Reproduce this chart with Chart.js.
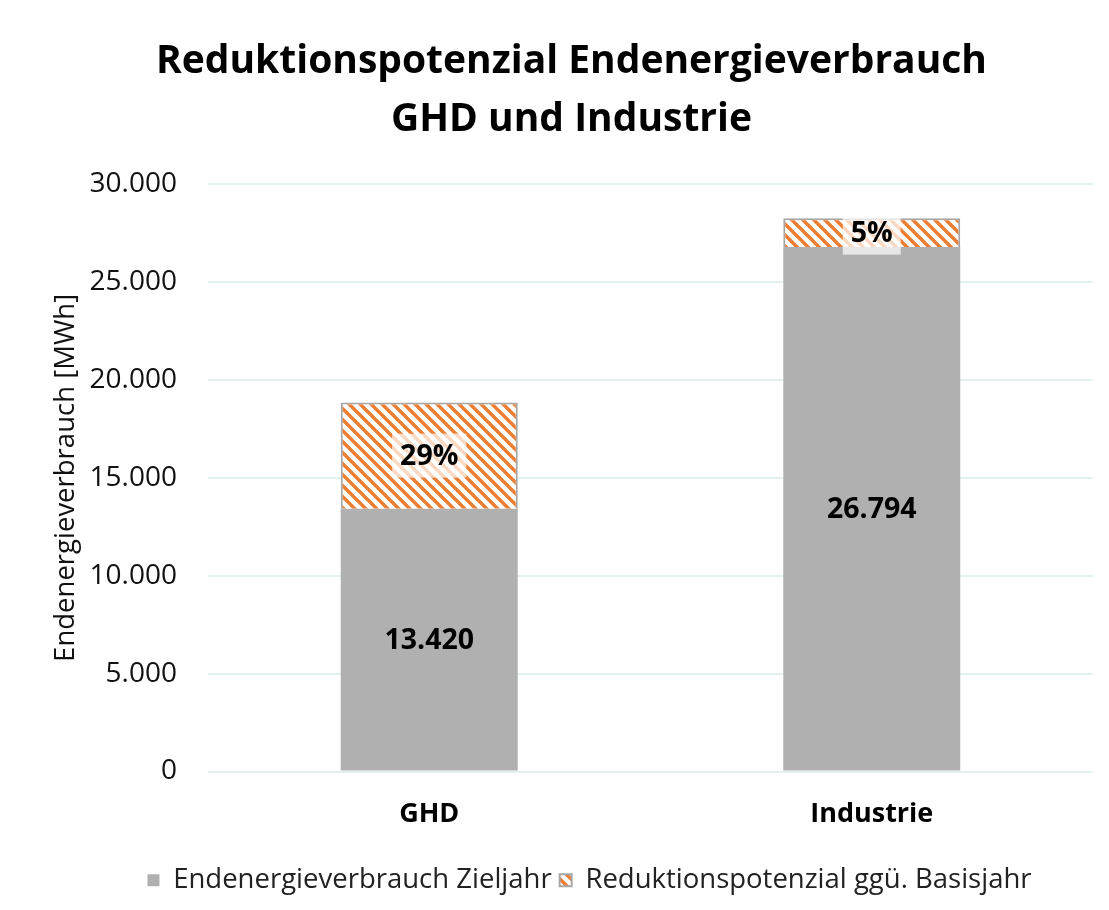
<!DOCTYPE html>
<html>
<head>
<meta charset="utf-8">
<script src="https://cdn.jsdelivr.net/npm/chart.js@4/dist/chart.umd.min.js"></script>
<style>
  html, body { margin: 0; padding: 0; background: #fff; }
  #wrap { width: 1109px; height: 910px; position: relative; }
</style>
</head>
<body>
<div id="wrap"><canvas id="c"></canvas></div>
<script>
const categories = ["GHD", "Industrie"];
const zieljahr = [13420, 26794];
const reduktion = [5430, 1470];
const reduktionLabels = ["29%", "5%"];
const seriesNames = ["Endenergieverbrauch Zieljahr", "Reduktionspotenzial ggü. Basisjahr"];
const yTicks = [0, 5000, 10000, 15000, 20000, 25000, 30000];

const FONT = "'Open Sans', sans-serif";
const GRAY = "#b0b0b0";
const ORANGE = "#ed7d31";

function hatch() {
  const s = 11;
  const cv = document.createElement("canvas");
  cv.width = s; cv.height = s;
  const g = cv.getContext("2d");
  g.fillStyle = "#fff";
  g.fillRect(0, 0, s, s);
  g.strokeStyle = ORANGE;
  g.lineWidth = 3.4;
  g.beginPath();
  g.moveTo(-2, -2); g.lineTo(s + 2, s + 2);
  g.moveTo(-2 + s, -2); g.lineTo(s + 2 + s, s + 2);
  g.moveTo(-2 - s, -2); g.lineTo(s + 2 - s, s + 2);
  g.stroke();
  return document.getElementById("c").getContext("2d").createPattern(cv, "repeat");
}

const fmt = v => v.toLocaleString("de-DE");

// value labels inside the bars, the percent ones on a pale box
const barLabels = {
  id: "barLabels",
  afterDatasetsDraw(chart) {
    const ctx = chart.ctx;
    ctx.save();
    ctx.font = "bold 28.5px " + FONT;
    ctx.textAlign = "center";
    ctx.textBaseline = "middle";
    chart.data.datasets.forEach((ds, di) => {
      chart.getDatasetMeta(di).data.forEach((bar, i) => {
        const y = (bar.y + bar.base) / 2;
        const txt = di === 0 ? fmt(ds.data[i]) : reduktionLabels[i];
        if (di === 1) {
          const w = ctx.measureText(txt).width + 16;
          ctx.fillStyle = "rgba(255,255,255,0.7)";
          ctx.fillRect(bar.x - w / 2, y - 22, w, 44);
        }
        ctx.fillStyle = "#000";
        ctx.fillText(txt, bar.x, y + 1);
      });
    });
    ctx.restore();
  },
  afterLayout(chart) {
    // Excel centres the legend a little right of the canvas middle
    chart.legend.left += 18;
    chart.legend.right += 18;
  }
};

new Chart(document.getElementById("c"), {
  type: "bar",
  data: {
    labels: categories,
    datasets: [
      { label: seriesNames[0], data: zieljahr, backgroundColor: GRAY, borderWidth: 0 },
      { label: seriesNames[1], data: reduktion, backgroundColor: hatch(), borderColor: "#a6a6a6", borderWidth: 2, borderSkipped: "bottom" }
    ]
  },
  options: {
    responsive: true,
    maintainAspectRatio: false,
    animation: false,
    devicePixelRatio: 1,
    datasets: { bar: { categoryPercentage: 1, barPercentage: 0.4 } },
    layout: { padding: { left: 50, right: 16, top: 10, bottom: 6 } },
    plugins: {
      tooltip: { enabled: false },
      title: {
        display: true,
        text: ["Reduktionspotenzial Endenergieverbrauch", "GHD und Industrie"],
        color: "#000",
        font: { family: FONT, size: 39, weight: "bold", lineHeight: 1.49 },
        padding: { top: 23, bottom: 35 }
      },
      legend: {
        position: "bottom",
        labels: {
          color: "#222",
          font: { family: FONT, size: 27.5 },
          boxWidth: 12,
          boxHeight: 12,
          padding: 8
        }
      }
    },
    scales: {
      x: {
        stacked: true,
        grid: { display: false },
        border: { display: false },
        afterFit: s => { s.height = 87; },
        ticks: { color: "#000", font: { family: FONT, size: 27, weight: "bold" }, padding: 19 }
      },
      y: {
        stacked: true,
        min: 0,
        max: 30000,
        afterBuildTicks: s => { s.ticks = yTicks.map(v => ({ value: v })); },
        afterFit: s => { s.width = 158; },
        grid: { color: "#e3f0f0", lineWidth: 2, drawTicks: false },
        border: { display: false },
        ticks: { color: "#111", font: { family: FONT, size: 28 }, padding: 31, callback: v => fmt(v) },
        title: { display: true, text: "Endenergieverbrauch [MWh]", color: "#111", font: { family: FONT, size: 27.5 }, padding: 0 }
      }
    }
  },
  plugins: [barLabels]
});
</script>
</body>
</html>
